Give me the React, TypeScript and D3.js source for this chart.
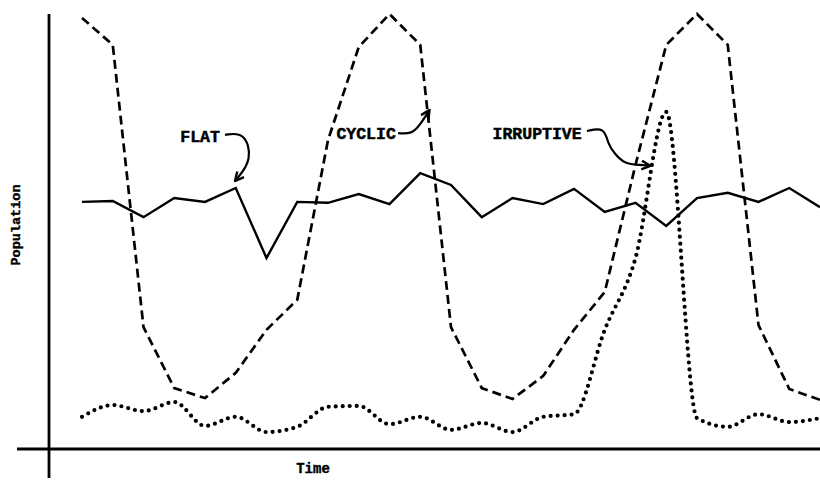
import * as d3 from "d3";
import React from "react";

// time steps along the x axis
const timeSteps = [0, 1, 2, 3, 4, 5, 6, 7, 8, 9, 10, 11, 12, 13, 14, 15, 16, 17, 18, 19, 20, 21, 22, 23, 24];

// population readings (arbitrary units, 0 = x axis)
const flatValues = [56.8, 57.0, 53.3, 57.7, 56.8, 60.0, 43.9, 56.8, 56.6, 58.6, 56.3, 63.4, 60.7, 53.3, 57.7, 56.3, 59.8, 54.5, 56.6, 51.3, 57.7, 58.9, 56.8, 60.0, 55.6];
const cyclicValues = [99.1, 92.9, 28.0, 14.0, 11.7, 17.5, 27.4, 34.3, 71.0, 92.4, 100, 92.9, 28.0, 14.0, 11.5, 16.8, 27.4, 36.1, 65.3, 92.9, 100, 92.9, 28.5, 13.8, 11.3];
const irruptiveValues = [7.4, 10.1, 8.7, 10.8, 5.3, 7.4, 3.9, 5.1, 9.7, 9.9, 5.7, 7.4, 4.4, 6.0, 3.9, 7.4, 8.0, 27.4, 43.9, 77.5, 7.1, 5.1, 8.0, 6.2, 7.1];

// annotation labels: text position and arrow path, in data coordinates [t, value]
const labelNames = ["FLAT", "CYCLIC", "IRRUPTIVE"];
const labelAt = [[3.84, 71.7], [9.24, 72.4], [14.8, 72.4]];
const arrowPaths = [
  [[4.65, 72.2], [5.3, 72.9], [5.55, 66.5], [5.0, 61.8]],
  [[10.28, 72.6], [10.73, 72.4], [10.99, 74.5], [11.28, 77.7]],
  [[16.42, 73.1], [17.0, 74.0], [17.1, 70.1], [17.33, 67.8], [17.65, 65.5], [18.15, 65.3], [18.45, 65.1]],
];

const W = 820;
const H = 483;
const font = "'Liberation Mono', 'Courier New', monospace";

export default function App() {
  const x = d3.scaleLinear().domain([0, 24]).range([82, 820]);
  const y = d3.scaleLinear().domain([0, 100]).range([449, 14]);
  const axisX = 49;

  const series = (vals: number[]) => timeSteps.map((t, i) => [t, vals[i]] as [number, number]);

  const lineLinear = d3
    .line<[number, number]>()
    .x((d) => x(d[0]))
    .y((d) => y(d[1]));
  const lineSmooth = d3
    .line<[number, number]>()
    .x((d) => x(d[0]))
    .y((d) => y(d[1]))
    .curve(d3.curveMonotoneX);
  const arrowLine = d3
    .line<number[]>()
    .x((d) => x(d[0]))
    .y((d) => y(d[1]))
    .curve(d3.curveBasis);

  return (
    <svg
      width={W}
      height={H}
      style={{ position: "absolute", left: 0, top: 0, background: "#fff" }}
    >
      <defs>
        <marker
          id="arrow"
          viewBox="0 0 10 10"
          refX="8"
          refY="5"
          markerWidth="5"
          markerHeight="5"
          orient="auto"
          markerUnits="strokeWidth"
        >
          <path d="M1,1 L9,5 L1,9" fill="none" stroke="#000" strokeWidth="2.2" />
        </marker>
      </defs>

      {/* axes */}
      <line x1={axisX} x2={axisX} y1={14} y2={478} stroke="#000" strokeWidth={2.8} />
      <line x1={17} x2={W} y1={y(0)} y2={y(0)} stroke="#000" strokeWidth={2.8} />

      {/* series */}
      <path d={lineLinear(series(flatValues)) || ""} fill="none" stroke="#000" strokeWidth={2.4} strokeLinejoin="miter" />
      <path
        d={lineLinear(series(cyclicValues)) || ""}
        fill="none"
        stroke="#000"
        strokeWidth={2.7}
        strokeDasharray="9 5"
      />
      <path
        d={lineSmooth(series(irruptiveValues)) || ""}
        fill="none"
        stroke="#000"
        strokeWidth={4.2}
        strokeDasharray="0 7"
        strokeLinecap="round"
      />

      {/* annotations */}
      {labelNames.map((name, i) => (
        <g key={name}>
          <text
            x={x(labelAt[i][0])}
            y={y(labelAt[i][1])}
            textAnchor="middle"
            dominantBaseline="central"
            fontFamily={font}
            fontWeight="bold"
            fontSize={16.5}
            fill="#000"
            stroke="#000"
            strokeWidth={0.5}
          >
            {name}
          </text>
          <path
            d={arrowLine(arrowPaths[i]) || ""}
            fill="none"
            stroke="#000"
            strokeWidth={2.2}
            markerEnd="url(#arrow)"
          />
        </g>
      ))}

      {/* axis titles */}
      <text
        transform={`translate(16,225) rotate(-90)`}
        textAnchor="middle"
        dominantBaseline="central"
        fontFamily={font}
        fontWeight="bold"
        fontSize={13.5}
        stroke="#000"
        strokeWidth={0.4}
      >
        Population
      </text>
      <text
        x={313}
        y={473}
        textAnchor="middle"
        fontFamily={font}
        fontWeight="bold"
        fontSize={14}
        stroke="#000"
        strokeWidth={0.4}
      >
        Time
      </text>
    </svg>
  );
}
